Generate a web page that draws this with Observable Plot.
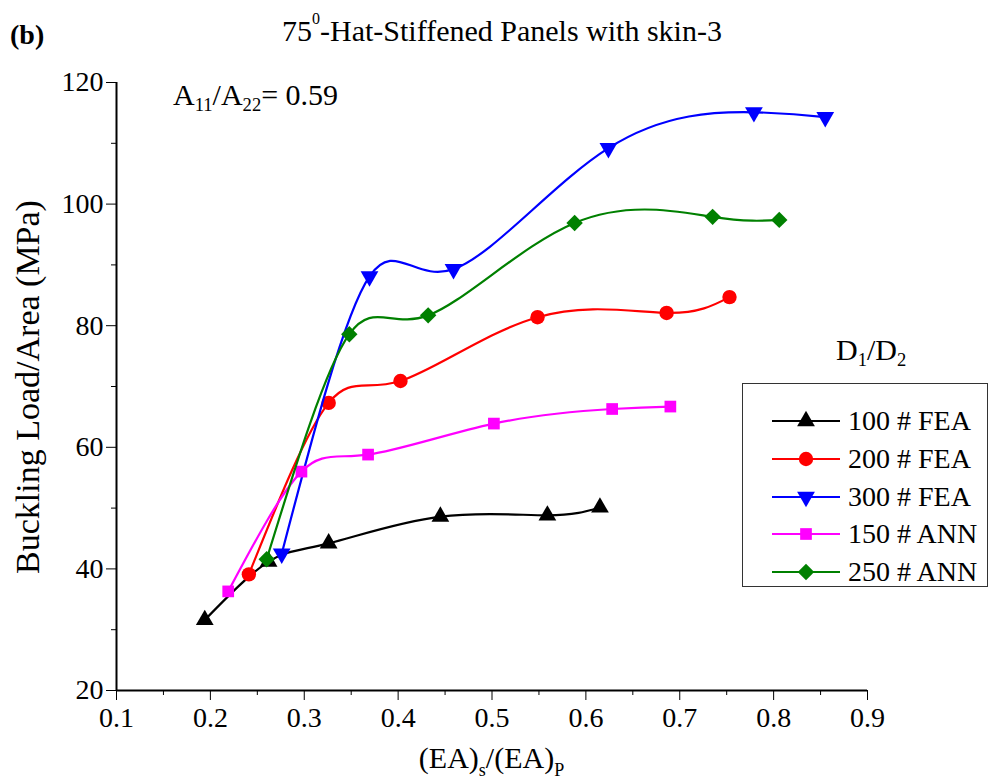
<!DOCTYPE html>
<html><head><meta charset="utf-8">
<script src="https://cdn.jsdelivr.net/npm/d3@7"></script>
<script src="https://cdn.jsdelivr.net/npm/@observablehq/plot@0.6"></script>
<style>
body{margin:0;background:#fff;color:#000;}
*, svg, svg text, span, div {font-family:"Liberation Serif","Times New Roman",Times,serif !important;}
#wrap{position:relative;width:992px;height:784px;overflow:hidden;}
#head{position:relative;height:60px;}
#tag{position:absolute;left:10px;top:19px;font-size:28px;font-weight:bold;}
#title{position:absolute;left:0;width:1004px;top:14px;text-align:center;font-size:30px;}
#title sup{font-size:16px;vertical-align:top;position:relative;top:-4px;}
.abs{position:absolute;white-space:nowrap;}
sub{font-size:0.62em;vertical-align:baseline;position:relative;top:0.3em;}
#annot{left:173px;top:78px;font-size:30px;}
#legtitle{left:836px;top:333px;font-size:30px;}
#legend{left:742px;top:383px;width:246px;height:204px;border:1px solid #333;box-sizing:border-box;}
.row{position:absolute;left:0;height:36px;display:flex;align-items:center;}
.row svg{display:block;margin-left:29px;}
.row span{font-size:28px;margin-left:6px;}
</style></head><body>
<div id="wrap">
  <div id="head">
    <div id="tag">(b)</div>
    <div id="title">75<sup>0</sup>-Hat-Stiffened Panels with skin-3</div>
  </div>
  <div id="chart"></div>
  <div id="annot" class="abs">A<sub>11</sub>/A<sub>22</sub>= 0.59</div>
  <div id="legtitle" class="abs">D<sub>1</sub>/D<sub>2</sub></div>
  <div id="legend" class="abs"></div>
</div>
<script>
// ---- data ----
const seriesNames = ["100 # FEA", "200 # FEA", "300 # FEA", "150 # ANN", "250 # ANN"];
const seriesColors = ["#000000", "#ff0000", "#0000ff", "#ff00ff", "#008000"];
const seriesSymbols = ["triangle", "circle", "triangleDown", "square", "diamond2"];
const x100 = [0.194, 0.262, 0.326, 0.445, 0.559, 0.615];
const y100 = [31.6, 41.2, 44.2, 48.6, 48.8, 50.1];
const x200 = [0.241, 0.326, 0.4025, 0.5485, 0.686, 0.753];
const y200 = [39.1, 67.3, 70.9, 81.4, 82.1, 84.7];
const x300 = [0.276, 0.3695, 0.459, 0.624, 0.779, 0.855];
const y300 = [42.5, 88.1, 89.3, 109.2, 115.1, 114.3];
const x150 = [0.219, 0.297, 0.368, 0.502, 0.628, 0.690];
const y150 = [36.3, 56.0, 58.8, 63.9, 66.3, 66.7];
const x250 = [0.260, 0.348, 0.432, 0.588, 0.735, 0.806];
const y250 = [41.6, 78.6, 81.7, 96.9, 97.9, 97.4];
const xTicks = [0.1, 0.2, 0.3, 0.4, 0.5, 0.6, 0.7, 0.8, 0.9];
const xMinorTicks = [0.15, 0.25, 0.35, 0.45, 0.55, 0.65, 0.75, 0.85];
const yTicks = [20, 40, 60, 80, 100, 120];
const yMinorTicks = [30, 50, 70, 90, 110];
const xDomain = [0.1, 0.9];
const yDomain = [20, 120];

const xs = [x100, x200, x300, x150, x250];
const ys = [y100, y200, y300, y150, y250];

const FONT = "'Liberation Serif', 'Times New Roman', Times, serif";

// custom downward triangle symbol
const triangleDown = {
  draw(context, size) {
    const s3 = Math.sqrt(3);
    const y = -Math.sqrt(size / (s3 * 3));
    context.moveTo(0, -y * 2);
    context.lineTo(-s3 * y, y);
    context.lineTo(s3 * y, y);
    context.closePath();
  }
};
function symbolOf(name) { return name === "triangleDown" ? triangleDown : name; }
const symbolR = {triangle: 6.6, circle: 7.2, triangleDown: 6.6, square: 6.6, diamond2: 7.4};

const series = seriesNames.map((name, i) => ({
  name, color: seriesColors[i], symbol: seriesSymbols[i],
  rows: xs[i].map((x, j) => ({x, y: ys[i][j]}))
}));

const marks = [
  Plot.axisY(yTicks, {tickSize: 10, tickPadding: 3, fontSize: 28, fontFamily: FONT, label: null, tickFormat: d => String(d)}),
  Plot.axisY(yMinorTicks, {tickSize: 5, text: null, label: null}),
  Plot.axisX(xTicks, {tickSize: 10, tickPadding: 7, fontSize: 28, fontFamily: FONT, label: null, tickFormat: d => d.toFixed(1)}),
  Plot.axisX(xMinorTicks, {tickSize: 5, text: null, label: null}),
  Plot.ruleX([xDomain[0]], {stroke: "#000", strokeWidth: 2}),
  Plot.ruleY([yDomain[0]], {stroke: "#000", strokeWidth: 2})
];
for (const s of series) {
  marks.push(Plot.line(s.rows, {x: "x", y: "y", stroke: s.color, strokeWidth: 2.2, curve: "natural"}));
  marks.push(Plot.dot(s.rows, {x: "x", y: "y", fill: s.color, stroke: "none", symbol: symbolOf(s.symbol), r: symbolR[s.symbol]}));
}

const chart = Plot.plot({
  width: 992, height: 724,
  marginLeft: 116, marginRight: 125, marginTop: 22, marginBottom: 94,
  x: {domain: xDomain},
  y: {domain: yDomain},
  style: {fontFamily: FONT, color: "#000", background: "transparent", overflow: "visible"},
  marks
});
document.getElementById("chart").appendChild(chart);

// axis titles with subscripts
const svg = d3.select(chart);
const xl = svg.append("text").attr("x", 491.5).attr("y", 708).attr("text-anchor", "middle")
  .attr("font-size", 30).attr("fill", "#000");
xl.append("tspan").text("(EA)");
xl.append("tspan").attr("font-size", 18).attr("dy", 8).text("s");
xl.append("tspan").attr("dy", -8).text("/(EA)");
xl.append("tspan").attr("font-size", 18).attr("dy", 8).text("P");
svg.append("text").attr("transform", "translate(39,327) rotate(-90)").attr("text-anchor", "middle")
  .attr("font-size", 34).attr("fill", "#000")
  .text("Buckling Load/Area (MPa)");

// legend
const leg = document.getElementById("legend");
const rowTops = [19, 57, 95, 132, 170];
series.forEach((s, i) => {
  const row = document.createElement("div");
  row.className = "row";
  row.style.top = rowTops[i] + "px";
  const ns = "http://www.w3.org/2000/svg";
  const sw = document.createElementNS(ns, "svg");
  sw.setAttribute("width", 70); sw.setAttribute("height", 36);
  const ln = document.createElementNS(ns, "line");
  ln.setAttribute("x1", 0); ln.setAttribute("x2", 68); ln.setAttribute("y1", 18); ln.setAttribute("y2", 18);
  ln.setAttribute("stroke", s.color); ln.setAttribute("stroke-width", 2.2);
  sw.appendChild(ln);
  const r = symbolR[s.symbol];
  const symType = s.symbol === "triangleDown" ? triangleDown :
    ({triangle: d3.symbolTriangle, circle: d3.symbolCircle, square: d3.symbolSquare, diamond2: d3.symbolDiamond2})[s.symbol];
  const p = document.createElementNS(ns, "path");
  p.setAttribute("d", d3.symbol(symType, r * r * Math.PI)());
  p.setAttribute("transform", "translate(34,18)");
  p.setAttribute("fill", s.color);
  sw.appendChild(p);
  row.appendChild(sw);
  const t = document.createElement("span");
  t.textContent = s.name;
  row.appendChild(t);
  leg.appendChild(row);
});
</script>
</body></html>
